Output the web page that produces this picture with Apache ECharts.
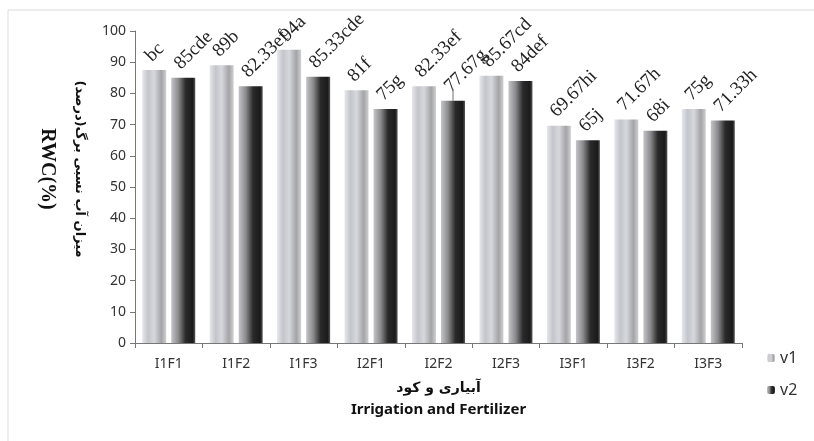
<!DOCTYPE html>
<html>
<head>
<meta charset="utf-8">
<script src="https://cdn.jsdelivr.net/npm/echarts@6/dist/echarts.min.js"></script>
<style>html,body{margin:0;padding:0;background:#fff;}#c{width:814px;height:441px;}</style>
</head>
<body>
<div id="c"></div>
<script>
const categories = ['I1F1','I1F2','I1F3','I2F1','I2F2','I2F3','I3F1','I3F2','I3F3'];
const v1Values = [87.5, 89, 94, 81, 82.33, 85.67, 69.67, 71.67, 75];
const v2Values = [85, 82.33, 85.33, 75, 77.67, 84, 65, 68, 71.33];
const v1Labels = ['bc','89b','94a','81f','82.33ef','85.67cd','69.67hi','71.67h','75g'];
const v2Labels = ['85cde','82.33ef','85.33cde','75g','77.67g','84def','65j','68i','71.33h'];
const yTicks = [0,10,20,30,40,50,60,70,80,90,100];
const errorBars = [{cat:'I2F2', low:77.67, high:81.5}];

const chart = echarts.init(document.getElementById('c'));
const v1Color = new echarts.graphic.LinearGradient(0,0,1,0,[
  {offset:0,color:'#e6e7ec'},{offset:0.25,color:'#c4c5ca'},{offset:0.5,color:'#d6d8de'},
  {offset:0.8,color:'#a4a4a6'},{offset:1,color:'#d0d0d2'}]);
const v2Color = new echarts.graphic.LinearGradient(0,0,1,0,[
  {offset:0,color:'#c4c5c9'},{offset:0.3,color:'#8a8a8c'},{offset:0.6,color:'#2a2a2a'},
  {offset:0.9,color:'#1a1a1a'},{offset:1,color:'#5a5a5a'}]);
const labelStyle = {fontFamily:'Liberation Serif', fontSize:19, color:'#222'};

chart.setOption({
  animation:false,
  backgroundColor:'#fff',
  graphic:[
    {type:'line', shape:{x1:8,y1:10,x2:814,y2:10}, style:{stroke:'#dcdcdc',lineWidth:1}},
    {type:'line', shape:{x1:8,y1:10,x2:8,y2:441}, style:{stroke:'#dcdcdc',lineWidth:1}}
  ],
  grid:{left:135, right:72, top:31, bottom:98},
  legend:{
    orient:'vertical', left:762, top:345, itemWidth:8, itemHeight:8, itemGap:16,
    textStyle:{fontFamily:'Noto Sans', fontSize:16, color:'#333'},
    data:['v1','v2']
  },
  xAxis:{
    type:'category', data:categories,
    axisLine:{lineStyle:{color:'#777'}},
    axisTick:{show:true, alignWithLabel:false, length:5, lineStyle:{color:'#777'}},
    axisLabel:{fontFamily:'Noto Sans', fontSize:14, color:'#333', margin:14},
    name:'{a|آبیاری و کود}\n{b|Irrigation and Fertilizer}',
    nameLocation:'middle', nameGap:34,
    nameTextStyle:{rich:{
      a:{fontFamily:'DejaVu Sans', fontWeight:'bold', fontSize:14, color:'#111', lineHeight:22, align:'center'},
      b:{fontFamily:'Noto Sans', fontWeight:'bold', fontSize:15, color:'#111', lineHeight:22, align:'center'}
    }}
  },
  yAxis:{
    type:'value', min:yTicks[0], max:yTicks[yTicks.length-1], interval:10,
    splitLine:{show:false},
    axisLine:{show:true, lineStyle:{color:'#777'}},
    axisTick:{show:true, length:5, lineStyle:{color:'#777'}},
    axisLabel:{fontFamily:'Noto Sans', fontSize:14, color:'#333', margin:9},
    name:'{a|میزان آب نسبی برگ(درصد)}\n{b|RWC(%)}',
    nameLocation:'middle', nameRotate:-90, nameGap:40,
    nameTextStyle:{padding:[0,36,0,0], rich:{
      a:{fontFamily:'DejaVu Sans', fontWeight:'bold', fontSize:13, color:'#111', lineHeight:32, align:'center'},
      b:{fontFamily:'Liberation Serif', fontWeight:'bold', fontSize:20, color:'#111', lineHeight:32, align:'center'}
    }}
  },
  series:[
    {name:'v1', type:'bar', data:v1Values, barWidth:24, barGap:'21%',
     itemStyle:{color:v1Color},
     label:{show:true, position:'top', rotate:45, align:'left', verticalAlign:'middle', distance:17, offset:[-8,0],
       formatter:p=>v1Labels[p.dataIndex], ...labelStyle}},
    {name:'v2', type:'bar', data:v2Values, barWidth:24, barGap:'21%',
     itemStyle:{color:v2Color},
     label:{show:true, position:'top', rotate:45, align:'left', verticalAlign:'middle', distance:17, offset:[-8,0],
       formatter:p=>v2Labels[p.dataIndex], ...labelStyle}},
    {type:'custom', silent:true, z:5,
     data:errorBars.map(e=>[e.cat,e.low,e.high]),
     renderItem:function(params, api){
       const lo = api.coord([api.value(0), api.value(1)]);
       const hi = api.coord([api.value(0), api.value(2)]);
       const bw = api.size([1,0])[0];
       const x = lo[0] + bw*0.215;
       return {type:'line', shape:{x1:x,y1:lo[1],x2:x,y2:hi[1]}, style:{stroke:'#888',lineWidth:1.2}};
     }}
  ]
});
</script>
</body>
</html>
